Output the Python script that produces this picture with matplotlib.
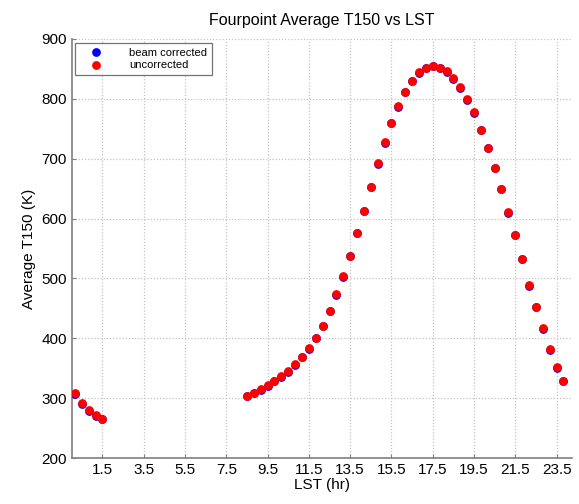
import matplotlib.pyplot as plt

plt.rcParams['font.family'] = ['Liberation Sans', 'DejaVu Sans']

# LST (hr) - two observation windows
lst_early = [0.17, 0.5, 0.83, 1.17, 1.5]
lst_main = [8.5, 8.83, 9.17, 9.5, 9.83, 10.17, 10.5, 10.83, 11.17, 11.5, 11.83,
            12.17, 12.5, 12.83, 13.17, 13.5, 13.83, 14.17, 14.5, 14.83, 15.17,
            15.5, 15.83, 16.17, 16.5, 16.83, 17.17, 17.5, 17.83, 18.17, 18.5,
            18.83, 19.17, 19.5, 19.83, 20.17, 20.5, 20.83, 21.17, 21.5, 21.83,
            22.17, 22.5, 22.83, 23.17, 23.5, 23.83]

# uncorrected T150 (K)
unc_early = [308, 292, 280, 272, 266]
unc_main = [304, 309, 315, 322, 329, 337, 345, 357, 369, 384, 401,
            421, 446, 474, 504, 538, 576, 613, 653, 692, 727,
            760, 787, 812, 830, 844, 852, 855, 852, 846, 834,
            819, 799, 777, 748, 718, 685, 650, 611, 573, 533,
            489, 453, 417, 382, 352, 329]

# beam corrected T150 (K)
bc_early = [307, 291, 279, 271, 265]
bc_main = [303, 308, 314, 321, 328, 336, 344, 356, 368, 383, 400,
           420, 445, 473, 503, 537, 575, 612, 652, 691, 726,
           759, 786, 811, 829, 843, 851, 854, 851, 845, 833,
           818, 798, 776, 747, 717, 684, 649, 610, 572, 532,
           488, 452, 416, 381, 351, 328]

xticks = [1.5, 3.5, 5.5, 7.5, 9.5, 11.5, 13.5, 15.5, 17.5, 19.5, 21.5, 23.5]

fig = plt.figure(figsize=(5.79, 5.04), dpi=100)
ax = fig.add_axes([0.1235, 0.091, 0.8645, 0.832])

ax.plot(lst_early + lst_main, bc_early + bc_main, 'o', color='blue',
        markersize=6.3, markeredgewidth=0, label='beam corrected', zorder=3)
ax.plot(lst_early + lst_main, unc_early + unc_main, 'o', color='red',
        markersize=6.3, markeredgewidth=0, label='uncorrected', zorder=4)

ax.set_xlim(0, 24.25)
ax.set_ylim(200, 900)
ax.set_xticks(xticks)
ax.set_xticklabels([str(t) for t in xticks])
ax.set_yticks(range(200, 901, 100))

ax.grid(True, linestyle=(0, (1, 1.5)), color='#c4c4c4', linewidth=0.9)
ax.set_axisbelow(True)
for s in ['top', 'right']:
    ax.spines[s].set_visible(False)
for s in ['left', 'bottom']:
    ax.spines[s].set_color('#808080')
    ax.spines[s].set_linewidth(1.2)
ax.tick_params(direction='in', length=3, color='#808080', labelsize=11,
               labelcolor='black')

ax.set_title('Fourpoint Average T150 vs LST', fontsize=11.5, pad=10)
ax.set_xlabel('LST (hr)', fontsize=11, labelpad=1)
ax.set_ylabel('Average T150 (K)', fontsize=11)

leg = ax.legend(loc='upper left', fontsize=8, frameon=True, fancybox=False,
                edgecolor='#505050', borderpad=0.45, handletextpad=1.6,
                labelspacing=0.25, handlelength=2.8, borderaxespad=0.35)
leg.get_frame().set_linewidth(0.9)

plt.savefig('out.png', dpi=100)
